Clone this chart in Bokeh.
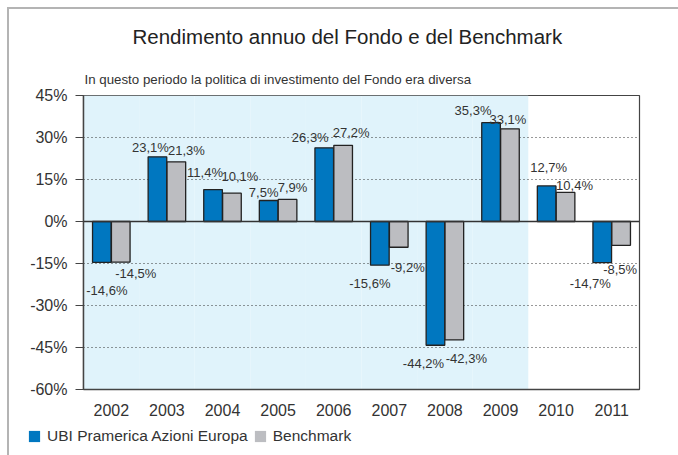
from bokeh.plotting import figure
from bokeh.layouts import column, row
from bokeh.models import (ColumnDataSource, FactorRange, FixedTicker, PrintfTickFormatter,
                          Span, Title, Legend, LegendItem)
from bokeh.transform import dodge
from bokeh.core.properties import value
from bokeh.embed import file_html
from bokeh.resources import INLINE

# ---- data ----
years = ["2002", "2003", "2004", "2005", "2006", "2007", "2008", "2009", "2010", "2011"]
fund = [-14.6, 23.1, 11.4, 7.5, 26.3, -15.6, -44.2, 35.3, 12.7, -14.7]
bench = [-14.5, 21.3, 10.1, 7.9, 27.2, -9.2, -42.3, 33.1, 10.4, -8.5]
shaded_years = ["2002", "2003", "2004", "2005", "2006", "2007", "2008", "2009"]
y_ticks = [45, 30, 15, 0, -15, -30, -45, -60]
fund_name = "UBI Pramerica Azioni Europa"
bench_name = "Benchmark"
title_text = "Rendimento annuo del Fondo e del Benchmark"
subtitle_text = "In questo periodo la politica di investimento del Fondo era diversa"

# label nudges in screen pixels (style)
fund_dx = [5, -7, -8, -5, -14, -10, -12, -18, 2, -12]
fund_gap = [21, 9, 17, 8, 10, 11, 11, 12, 18, 13]
bench_dx = [15, 10, 8, 5, 8, 9, 12, -2, 9, -1]
bench_gap = [4, 11, 17, 12, 13, 13, 11, 9, 7, 17]

FONT = "Liberation Sans"
BLUE = "#0077c0"
GREY = "#bcbdc1"
SHADE = "#e0f3fb"
TXT = "#333333"
NAN = float("nan")

def fmt(v):
    return ("%.1f%%" % v).replace(".", ",")

def label_cols(vals, dx, gap):
    return dict(
        lab=[fmt(v) for v in vals],
        dx=dx,
        dy=[-g if v >= 0 else g for v, g in zip(vals, gap)],
        base=["alphabetic" if v >= 0 else "top" for v in vals],
    )

src = ColumnDataSource(dict(year=years, fund=fund, bench=bench))
fsrc = ColumnDataSource(dict(year=years, val=fund, **label_cols(fund, fund_dx, fund_gap)))
bsrc = ColumnDataSource(dict(year=years, val=bench, **label_cols(bench, bench_dx, bench_gap)))
shade_src = ColumnDataSource(dict(year=shaded_years, top=[max(y_ticks)] * len(shaded_years),
                                  bottom=[min(y_ticks)] * len(shaded_years)))

p = figure(x_range=FactorRange(*years, range_padding=0), y_range=(min(y_ticks), max(y_ticks)),
           width=669, height=411, output_backend="svg", toolbar_location=None,
           min_border_left=74, min_border_right=39, min_border_top=86, min_border_bottom=31)
p.background_fill_color = "white"
p.border_fill_color = "white"
p.outline_line_color = "#444444"
p.outline_line_width = 1.2

# shaded period
p.vbar(x="year", top="top", bottom="bottom", width=1.0, source=shade_src,
       fill_color=SHADE, line_color=None, level="underlay")

# grid
p.xgrid.visible = False
p.ygrid.ticker = FixedTicker(ticks=[t for t in y_ticks if t not in (0, max(y_ticks), min(y_ticks))])
p.ygrid.grid_line_color = "#333333"
p.ygrid.grid_line_dash = "1 3"
p.ygrid.grid_line_width = 1
p.ygrid.level = "glyph"

# bars
p.vbar(x=dodge("year", -0.17, range=p.x_range), top="fund", width=0.335, source=src,
       fill_color=BLUE, line_color="#222222", line_width=1.3, level="guide")
p.vbar(x=dodge("year", 0.17, range=p.x_range), top="bench", width=0.335, source=src,
       fill_color=GREY, line_color="#222222", line_width=1.3, level="guide")

p.add_layout(Span(location=0, dimension="width", line_color="#333333", line_width=1.5))

# value labels
for s, off in ((fsrc, -0.17), (bsrc, 0.17)):
    p.text(x=dodge("year", off, range=p.x_range), y="val", text="lab", source=s,
           x_offset="dx", y_offset="dy", text_baseline="base", text_align="center",
           text_font=value(FONT), text_font_size="13px", text_color=TXT, level="annotation")

# axes
p.yaxis.ticker = FixedTicker(ticks=y_ticks)
p.yaxis.formatter = PrintfTickFormatter(format="%d%%")
p.yaxis.major_label_text_font = FONT
p.yaxis.major_label_text_font_size = "16px"
p.yaxis.major_label_text_color = TXT
p.yaxis.major_tick_out = 8
p.yaxis.major_tick_in = 0
p.yaxis.major_tick_line_color = "#444444"
p.yaxis.minor_tick_line_color = None
p.yaxis.axis_line_color = "#444444"
p.yaxis.axis_line_width = 1.5
p.yaxis.major_label_standoff = 8

p.xaxis.major_label_text_font = FONT
p.xaxis.major_label_text_font_size = "16px"
p.xaxis.major_label_text_color = TXT
p.xaxis.major_tick_line_color = None
p.xaxis.minor_tick_line_color = None
p.xaxis.axis_line_color = "#444444"
p.xaxis.axis_line_width = 1.5
p.xaxis.major_label_standoff = 8

# titles (subtitle nearest the frame)
p.add_layout(Title(text=subtitle_text, align="left", offset=1, standoff=17,
                   text_font=FONT, text_font_size="13.3px", text_font_style="normal",
                   text_color=TXT), "above")
p.add_layout(Title(text=title_text, align="left", offset=49, standoff=27,
                   text_font=FONT, text_font_size="20.5px", text_font_style="normal",
                   text_color="#222222"), "above")

# legend strip (proxy glyphs with no drawable data)
lg = figure(width=669, height=35, output_backend="svg", toolbar_location=None,
            x_axis_type=None, y_axis_type=None, min_border=0,
            x_range=(0, 1), y_range=(0, 1))
lg.outline_line_color = None
lg.background_fill_color = "white"
lg.border_fill_color = "white"
r1 = lg.quad(left=[NAN], right=[NAN], top=[NAN], bottom=[NAN], fill_color=BLUE, line_color=None)
r2 = lg.quad(left=[NAN], right=[NAN], top=[NAN], bottom=[NAN], fill_color=GREY, line_color=None)
legend = Legend(items=[LegendItem(label=fund_name, renderers=[r1]),
                       LegendItem(label=bench_name, renderers=[r2])],
                orientation="horizontal", location=(18, 10), padding=0, margin=0,
                spacing=5, glyph_width=14, glyph_height=14, label_standoff=6,
                label_text_font=FONT, label_text_font_size="15.5px", label_text_color=TXT,
                background_fill_alpha=0, border_line_color=None)
lg.add_layout(legend)

layout = column(p, row(lg), spacing=0)
layout.styles = {"margin-left": "7px", "margin-top": "7px",
                 "border-left": "2px solid #b4b4b4", "border-top": "2px solid #b4b4b4"}

open("out.html", "w").write(file_html(layout, INLINE))
